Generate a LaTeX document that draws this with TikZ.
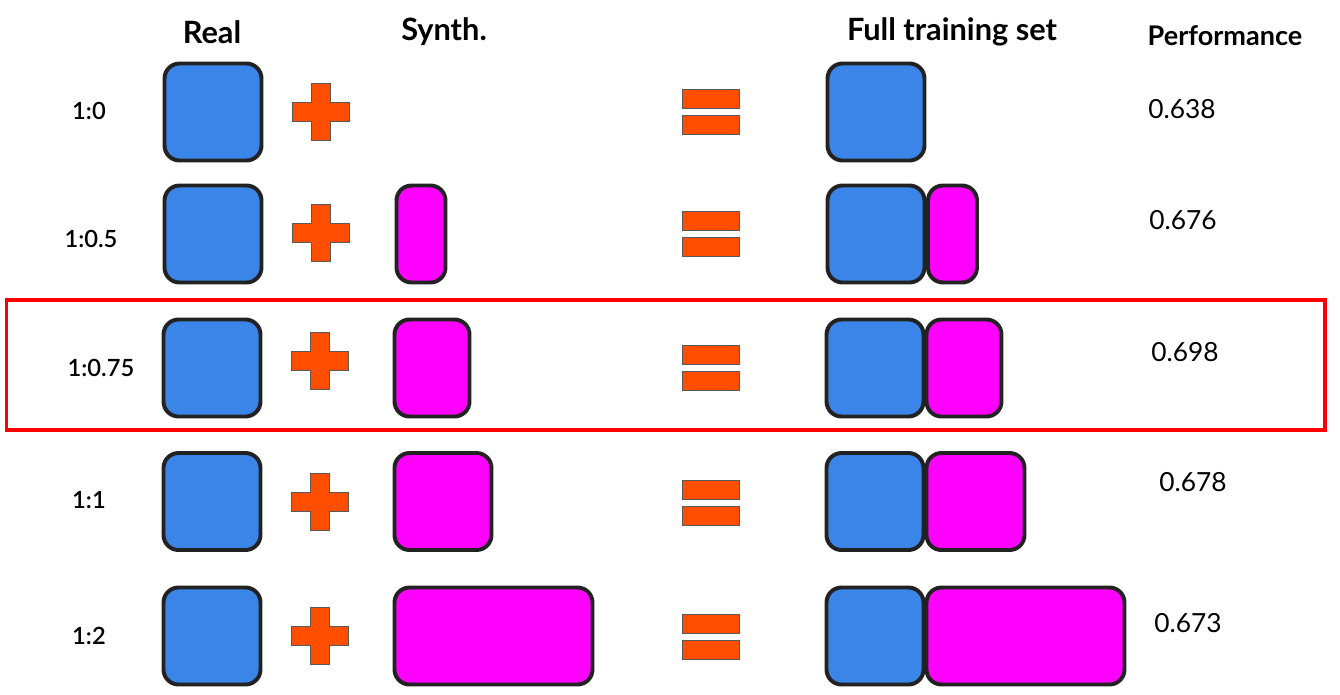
\documentclass[tikz,border=0pt]{standalone}
\usepackage{fontspec}
\setmainfont{Lato}
\newfontfamily\ratiofont{Lato Semibold}
\definecolor{realblue}{RGB}{60,133,232}
\definecolor{synthpink}{RGB}{255,0,255}
\definecolor{oporange}{RGB}{255,78,0}
\definecolor{boxline}{RGB}{34,34,34}
\tikzset{
  setbox/.style={draw=boxline, line width=3pt*0.75, rounded corners=0.3cm,
    minimum height=1.94cm, inner sep=0pt, outer sep=0pt},
  realbox/.style={setbox, fill=realblue, minimum width=1.94cm},
  synthbox/.style={setbox, fill=synthpink},
  opshape/.style={fill=oporange, draw=black!65, line width=0.5pt},
  head/.style={font=\fontsize{17.5}{20}\selectfont\bfseries},
  ratio/.style={font=\fontsize{13.5}{16}\selectfont\ratiofont},
  perf/.style={font=\fontsize{15}{17}\selectfont},
  pics/plussign/.style={code={
    \draw[opshape] (-9.5,-28.5) -- (9.5,-28.5) -- (9.5,-9.5) -- (28.5,-9.5)
      -- (28.5,9.5) -- (9.5,9.5) -- (9.5,28.5) -- (-9.5,28.5) -- (-9.5,9.5)
      -- (-28.5,9.5) -- (-28.5,-9.5) -- (-9.5,-9.5) -- cycle;}},
  pics/equalsign/.style={code={
    \draw[opshape] (-28.5,-22.5) rectangle (28.5,-3.5);
    \draw[opshape] (-28.5,3.5) rectangle (28.5,22.5);}}
}
\begin{document}
\begin{tikzpicture}[x=0.02cm, y=-0.02cm]
      \useasboundingbox (0,0) rectangle (1340,694);
      % column heads
      \node[head] (hreal) at (212,32) {Real};
      \node[head] (hsynth) at (444,32) {Synth.};
      \node[head] (hfull) at (952,32) {Full training set};
      \node[head, font=\fontsize{15.4}{18}\selectfont\bfseries] (hperf) at (1225,36) {Performance};
      % ratios
      \node[ratio] (r1) at (89,111) {1:0};
      \node[ratio] (r2) at (91,239) {1:0.5};
      \node[ratio] (r3) at (101,368) {1:0.75};
      \node[ratio] (r4) at (89,500) {1:1};
      \node[ratio] (r5) at (89,636) {1:2};
      % real sets
      \node[realbox] (real1) at (213,112) {};
      \node[realbox] (real2) at (213,234) {};
      \node[realbox] (real3) at (212,368) {};
      \node[realbox] (real4) at (212,501.5) {};
      \node[realbox] (real5) at (212,636) {};
      % synthetic sets
      \node[synthbox, minimum width=49*0.02cm, anchor=west] (syn2) at (396.5,234) {};
      \node[synthbox, minimum width=75*0.02cm, anchor=west] (syn3) at (394.5,368) {};
      \node[synthbox, minimum width=97*0.02cm, anchor=west] (syn4) at (394.5,501.5) {};
      \node[synthbox, minimum width=198*0.02cm, anchor=west] (syn5) at (394.5,636) {};
      % operators
      \pic at (321,112) {plussign};
      \pic at (321,233) {plussign};
      \pic at (320,361) {plussign};
      \pic at (320,502) {plussign};
      \pic at (320,636) {plussign};
      \pic at (711,112) {equalsign};
      \pic at (711,234) {equalsign};
      \pic at (711,367.5) {equalsign};
      \pic at (711,502.5) {equalsign};
      \pic at (711,636.5) {equalsign};
      % full training sets
      \node[realbox] (full1) at (876,112) {};
      \node[realbox] (full2) at (876,234) {};
      \node[synthbox, minimum width=49*0.02cm, anchor=west] (fsyn2) at (928,234) {};
      \node[realbox] (full3) at (875,368) {};
      \node[synthbox, minimum width=75*0.02cm, anchor=west] (fsyn3) at (926.5,368) {};
      \node[realbox] (full4) at (875,501.5) {};
      \node[synthbox, minimum width=98*0.02cm, anchor=west] (fsyn4) at (926.5,501.5) {};
      \node[realbox] (full5) at (875,636) {};
      \node[synthbox, minimum width=198*0.02cm, anchor=west] (fsyn5) at (926.5,636) {};
      % performance
      \node[perf] (p1) at (1182,109) {0.638};
      \node[perf] (p2) at (1183,220) {0.676};
      \node[perf] (p3) at (1185,352) {0.698};
      \node[perf] (p4) at (1193,482) {0.678};
      \node[perf] (p5) at (1188,623) {0.673};
      % best ratio
      \draw[red, line width=3.5*0.02cm] (6.5,300) rectangle (1325,430);
    \end{tikzpicture}
\end{document}
